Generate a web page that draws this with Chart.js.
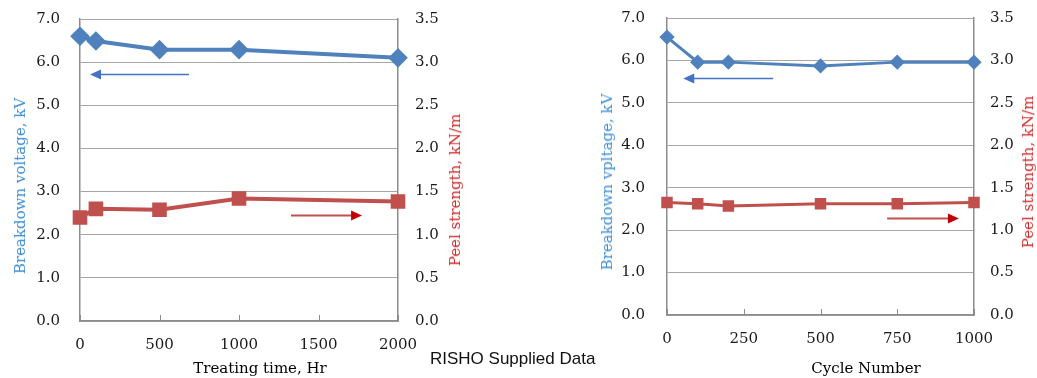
<!DOCTYPE html>
<html>
<head>
<meta charset="utf-8">
<script src="https://cdn.jsdelivr.net/npm/chart.js@4.4.0/dist/chart.umd.min.js"></script>
<style>
  body { margin: 0; background: #fff; }
  #page { position: relative; width: 1037px; height: 378px; overflow: hidden; font-family: "DejaVu Serif", serif; }
  .box { position: absolute; top: 0; }
  .lbl { position: absolute; white-space: nowrap; font-size: 15px; line-height: 18px; transform: translate(-50%, -50%); }
  .rot { transform: translate(-50%, -50%) rotate(-90deg); }
  .blue { color: #3d8ed4; }
  .red { color: #d02a2a; }
  #note { position: absolute; left: 430px; top: 349px; font-family: "Liberation Sans", Arial, sans-serif; font-size: 17px; line-height: 20px; color: #111; }
</style>
</head>
<body>
<div id="page">
  <div class="box" style="left:0;width:470px;height:378px"><canvas id="heat" width="470" height="378"></canvas></div>
  <div class="box" style="left:595px;width:442px;height:378px"><canvas id="cycle" width="442" height="378"></canvas></div>

  <div class="lbl rot blue" style="left:20px;top:186px">Breakdown voltage, kV</div>
  <div class="lbl rot red" style="left:455px;top:190px">Peel strength, kN/m</div>
  <div class="lbl" style="left:260px;top:368px">Treating time, Hr</div>

  <div class="lbl rot blue" style="left:607px;top:182px">Breakdown vpltage, kV</div>
  <div class="lbl rot red" style="left:1028px;top:172px">Peel strength, kN/m</div>
  <div class="lbl" style="left:866px;top:368px">Cycle Number</div>

  <div id="note">RISHO Supplied Data</div>
</div>
<script>
'use strict';

// left chart: heat treatment
var treatHours = [0, 100, 500, 1000, 2000];
var treatVoltage = [6.6, 6.49, 6.29, 6.29, 6.1];      // kV
var treatPeel = [1.2, 1.3, 1.29, 1.42, 1.385];         // kN/m

// right chart: cycling
var cycles = [0, 100, 200, 500, 750, 1000];
var cycleVoltage = [6.55, 5.96, 5.96, 5.87, 5.96, 5.96];
var cyclePeel = [1.325, 1.31, 1.285, 1.31, 1.31, 1.325];

var blue = '#4f81bd';
var red = '#c0504d';
var tickFont = { family: 'DejaVu Serif', size: 15 };
var clear = 'rgba(0,0,0,0)';

function pairs(xs, ys) {
    return xs.map(function(x, i) { return { x: x, y: ys[i] }; });
}

// short tick marks pointing up into the plot, plus the direction arrows
var decor = {
    id: 'decor',
    afterDatasetsDraw: function(chart, args, opts) {
        var ctx = chart.ctx;
        var xs = chart.scales.x;
        var area = chart.chartArea;
        ctx.save();
        ctx.strokeStyle = '#8c8c8c';
        ctx.lineWidth = 1;
        xs.ticks.forEach(function(t, i) {
            var px = Math.round(xs.getPixelForTick(i)) + 0.5;
            ctx.beginPath();
            ctx.moveTo(px, area.bottom);
            ctx.lineTo(px, area.bottom - 6);
            ctx.stroke();
        });
        (opts.arrows || []).forEach(function(a) {
            var ys = chart.scales[a.axis];
            var x0 = xs.getPixelForValue(a.from);
            var x1 = xs.getPixelForValue(a.to);
            var y = Math.round(ys.getPixelForValue(a.at)) + 0.5;
            var dir = x1 > x0 ? 1 : -1;
            ctx.strokeStyle = a.line;
            ctx.lineWidth = a.width;
            ctx.beginPath();
            ctx.moveTo(x0, y);
            ctx.lineTo(x1 - dir * 8, y);
            ctx.stroke();
            ctx.fillStyle = a.head;
            ctx.beginPath();
            ctx.moveTo(x1, y);
            ctx.lineTo(x1 - dir * 11, y - 5);
            ctx.lineTo(x1 - dir * 11, y + 5);
            ctx.closePath();
            ctx.fill();
        });
        ctx.restore();
    }
};

function build(id, xs, volts, peel, cfg) {
    return new Chart(document.getElementById(id), {
        type: 'line',
        data: {
            datasets: [{
                data: pairs(xs, volts),
                yAxisID: 'y',
                borderColor: blue,
                backgroundColor: blue,
                borderWidth: cfg.lineWidth,
                pointStyle: 'rectRot',
                pointRadius: cfg.diamond,
                pointHoverRadius: cfg.diamond,
                tension: 0,
                clip: false
            }, {
                data: pairs(xs, peel),
                yAxisID: 'y2',
                borderColor: red,
                backgroundColor: red,
                borderWidth: cfg.lineWidth,
                pointStyle: 'rect',
                pointRadius: cfg.square,
                pointHoverRadius: cfg.square,
                tension: 0,
                clip: false
            }]
        },
        options: {
            responsive: false,
            devicePixelRatio: 1,
            animation: false,
            events: [],
            layout: { padding: { top: cfg.top, bottom: 0, left: 0, right: 0 } },
            plugins: {
                legend: { display: false },
                tooltip: { enabled: false },
                decor: { arrows: cfg.arrows }
            },
            scales: {
                x: {
                    type: 'linear',
                    min: 0,
                    max: cfg.xMax,
                    ticks: { stepSize: cfg.xStep, font: tickFont, color: '#1a1a1a', padding: 15, maxRotation: 0,
                        callback: function(v) { return String(v); } },
                    grid: { display: false, drawTicks: false },
                    border: { color: '#8c8c8c', width: 1.5 },
                    afterFit: function(s) { s.height = cfg.xHeight; }
                },
                y: {
                    position: 'left',
                    min: 0,
                    max: 7,
                    // the gap to the labels comes from an invisible tick mark so it does not pad the top
                    ticks: { stepSize: 1, font: tickFont, color: '#1a1a1a', padding: 2,
                        callback: function(v) { return v.toFixed(1); } },
                    grid: { color: '#a6a6a6', lineWidth: 1, drawTicks: true, tickLength: cfg.leftPad - 2, tickColor: clear },
                    border: { color: '#8c8c8c', width: 1.5 },
                    afterFit: function(s) { s.width = cfg.leftWidth; }
                },
                y2: {
                    position: 'right',
                    min: 0,
                    max: 3.5,
                    ticks: { stepSize: 0.5, font: tickFont, color: '#1a1a1a', padding: 2,
                        callback: function(v) { return v.toFixed(1); } },
                    grid: { drawOnChartArea: false, drawTicks: true, tickLength: cfg.rightPad - 2, tickColor: clear, color: clear },
                    border: { color: '#8c8c8c', width: 1.5 },
                    afterFit: function(s) { s.width = cfg.rightWidth; }
                }
            }
        },
        plugins: [decor]
    });
}

build('heat', treatHours, treatVoltage, treatPeel, {
    xMax: 2000, xStep: 500, xHeight: 57, top: 19,
    leftWidth: 80, rightWidth: 72, leftPad: 20, rightPad: 17,
    lineWidth: 4, diamond: 7, square: 7.5,
    arrows: [
        { axis: 'y', from: 685, to: 63, at: 5.73, line: '#4472c4', head: '#4472c4', width: 1.5 },
        { axis: 'y', from: 1327, to: 1774, at: 2.46, line: '#c0504d', head: '#c00000', width: 2 }
    ]
});

build('cycle', cycles, cycleVoltage, cyclePeel, {
    xMax: 1000, xStep: 250, xHeight: 63, top: 18,
    leftWidth: 72, rightWidth: 63, leftPad: 22, rightPad: 16,
    lineWidth: 3, diamond: 5.5, square: 6,
    arrows: [
        { axis: 'y', from: 346, to: 53, at: 5.59, line: '#4472c4', head: '#4472c4', width: 1.5 },
        { axis: 'y', from: 717, to: 951, at: 2.29, line: '#c0504d', head: '#c00000', width: 2 }
    ]
});
</script>
</body>
</html>
